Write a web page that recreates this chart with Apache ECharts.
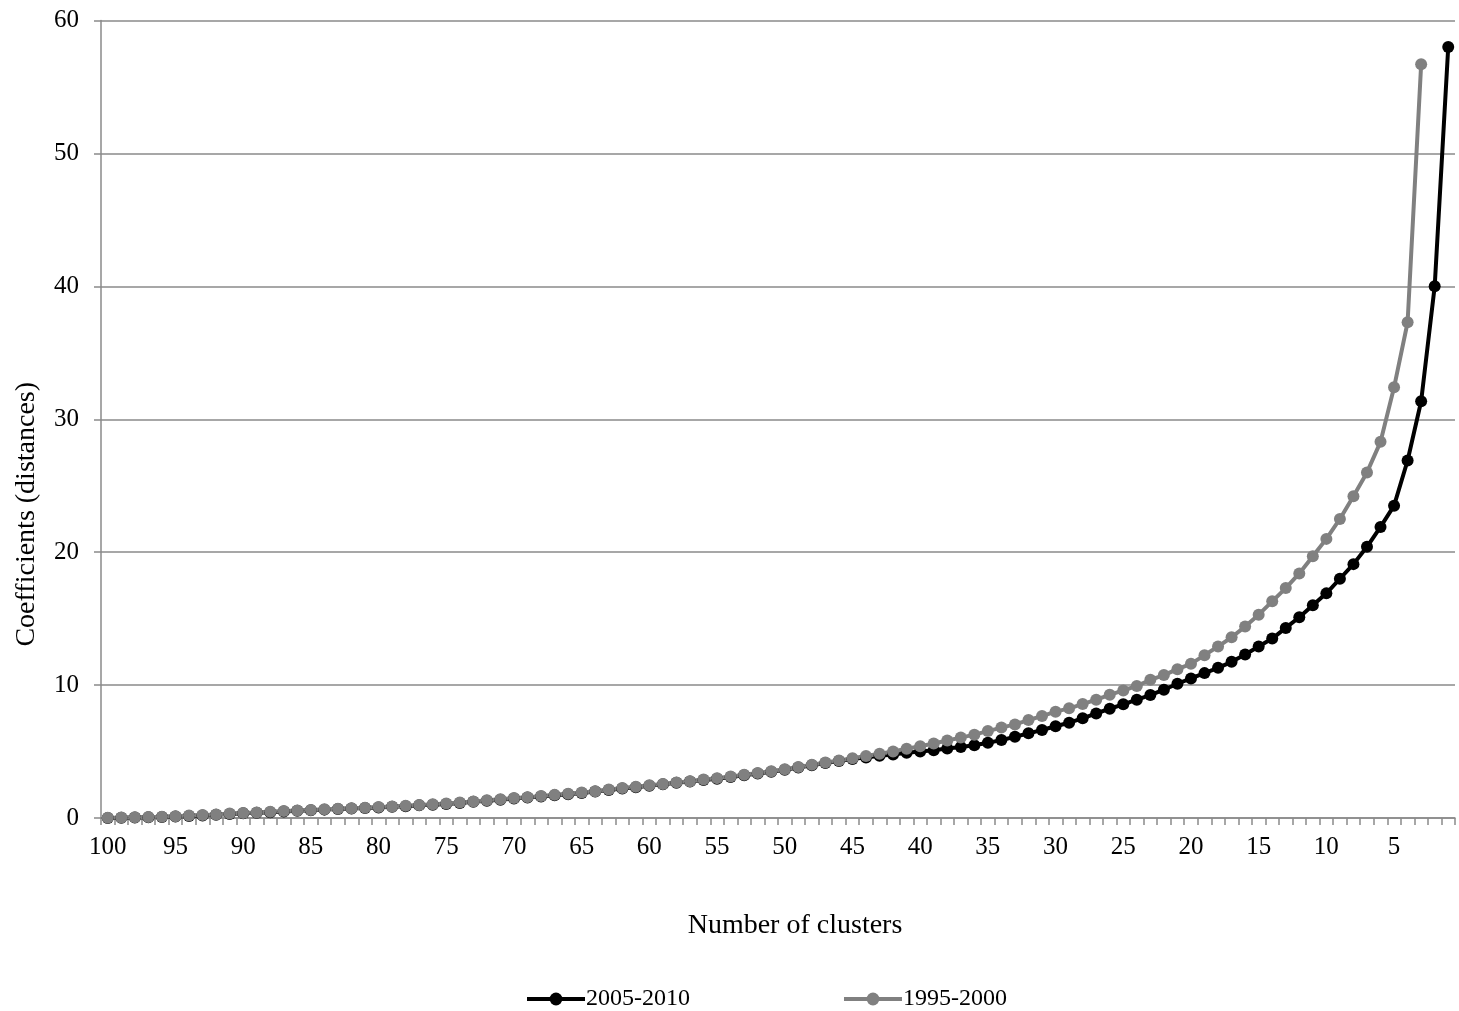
<!DOCTYPE html>
<html>
<head>
<meta charset="utf-8">
<script src="https://cdn.jsdelivr.net/npm/echarts@6/dist/echarts.min.js"></script>
<style>
html,body{margin:0;padding:0;background:#fff;}
#chart{width:1459px;height:1011px;}
</style>
</head>
<body>
<div id="chart"></div>
<script>
// Category labels: number of clusters, 100 down to 1
const clusterLabels = ['100','99','98','97','96','95','94','93','92','91','90','89','88','87','86','85','84','83','82','81','80','79','78','77','76','75','74','73','72','71','70','69','68','67','66','65','64','63','62','61','60','59','58','57','56','55','54','53','52','51','50','49','48','47','46','45','44','43','42','41','40','39','38','37','36','35','34','33','32','31','30','29','28','27','26','25','24','23','22','21','20','19','18','17','16','15','14','13','12','11','10','9','8','7','6','5','4','3','2','1'];

// 2005-2010 coefficients (clusters 100 -> 1)
const series2005 = [0.0,0.01,0.03,0.05,0.08,0.11,0.15,0.19,0.24,0.3,0.35,0.39,0.44,0.49,0.54,0.58,0.63,0.67,0.71,0.75,0.79,0.84,0.89,0.95,1.0,1.06,1.13,1.22,1.3,1.38,1.47,1.54,1.62,1.71,1.79,1.88,1.99,2.11,2.22,2.32,2.43,2.53,2.65,2.74,2.86,2.96,3.09,3.22,3.35,3.48,3.63,3.8,3.96,4.13,4.28,4.43,4.56,4.68,4.78,4.91,5.0,5.1,5.23,5.35,5.47,5.66,5.86,6.11,6.37,6.62,6.9,7.17,7.5,7.87,8.22,8.55,8.9,9.25,9.65,10.1,10.5,10.9,11.3,11.75,12.3,12.9,13.5,14.3,15.1,16.0,16.9,18.0,19.1,20.4,21.9,23.5,26.9,31.35,40.0,58.0];

// 1995-2000 coefficients (clusters 100 -> 3)
const series1995 = [0.02,0.03,0.05,0.07,0.1,0.14,0.18,0.22,0.27,0.33,0.38,0.42,0.47,0.52,0.57,0.61,0.66,0.7,0.74,0.78,0.82,0.87,0.92,0.98,1.03,1.09,1.16,1.25,1.33,1.41,1.5,1.57,1.65,1.74,1.82,1.91,2.02,2.14,2.25,2.35,2.46,2.56,2.68,2.77,2.9,3.0,3.13,3.26,3.39,3.52,3.67,3.84,4.0,4.17,4.33,4.5,4.66,4.83,5.0,5.21,5.4,5.6,5.83,6.05,6.27,6.54,6.8,7.04,7.37,7.67,8.0,8.25,8.57,8.9,9.27,9.6,9.93,10.4,10.75,11.2,11.6,12.25,12.9,13.6,14.4,15.3,16.3,17.3,18.4,19.7,21.0,22.5,24.2,26.0,28.3,32.4,37.3,56.7];

const yTicks = [0,10,20,30,40,50,60];

const FONT = '"Liberation Serif", "Times New Roman", serif';
const AXIS_GREY = '#8a8a8a';

const chart = echarts.init(document.getElementById('chart'), null, {renderer:'canvas'});
chart.setOption({
  animation: false,
  backgroundColor: '#ffffff',
  textStyle: {fontFamily: FONT, color: '#000'},
  grid: {left: 101, right: 4, top: 20.5, bottom: 193, containLabel: false},
  legend: {
    data: ['2005-2010','1995-2000'],
    left: 520, top: 982,
    itemWidth: 58, itemHeight: 16, itemGap: 152,
    lineStyle: {width: 4},
    textStyle: {fontFamily: FONT, fontSize: 24, color: '#000', padding:[0,0,0,-4]}
  },
  xAxis: {
    type: 'category',
    data: clusterLabels,
    boundaryGap: true,
    name: 'Number of clusters',
    nameLocation: 'middle',
    nameGap: 94,
    nameTextStyle: {fontFamily: FONT, fontSize: 28, color: '#000', padding: [0, 0, 0, 34]},
    axisLine: {lineStyle: {color: AXIS_GREY, width: 1.5}},
    axisTick: {show: true, interval: 0, length: 7, lineStyle: {color: AXIS_GREY, width: 1.5}},
    axisLabel: {interval: 4, margin: 17, fontFamily: FONT, fontSize: 25, color: '#000'},
    splitLine: {show: false}
  },
  yAxis: {
    type: 'value',
    min: yTicks[0], max: yTicks[yTicks.length-1], interval: 10,
    name: 'Coefficients (distances)',
    nameLocation: 'middle',
    nameGap: 60,
    nameRotate: 90,
    nameTextStyle: {fontFamily: FONT, fontSize: 28, color: '#000', padding: [0, 190, 0, 0]},
    axisLine: {show: true, lineStyle: {color: AXIS_GREY, width: 1.5}},
    axisTick: {show: true, length: 7, lineStyle: {color: AXIS_GREY, width: 1.5}},
    axisLabel: {margin: 22, fontFamily: FONT, fontSize: 25, color: '#000'},
    splitLine: {show: true, lineStyle: {color: AXIS_GREY, width: 1.5}}
  },
  series: [
    {
      name: '2005-2010', type: 'line', data: series2005,
      symbol: 'circle', symbolSize: 12, showAllSymbol: true,
      lineStyle: {color: '#000000', width: 4},
      itemStyle: {color: '#000000'}
    },
    {
      name: '1995-2000', type: 'line', data: series1995,
      symbol: 'circle', symbolSize: 12, showAllSymbol: true,
      lineStyle: {color: '#808080', width: 4},
      itemStyle: {color: '#808080'}
    }
  ]
});
</script>
</body>
</html>
